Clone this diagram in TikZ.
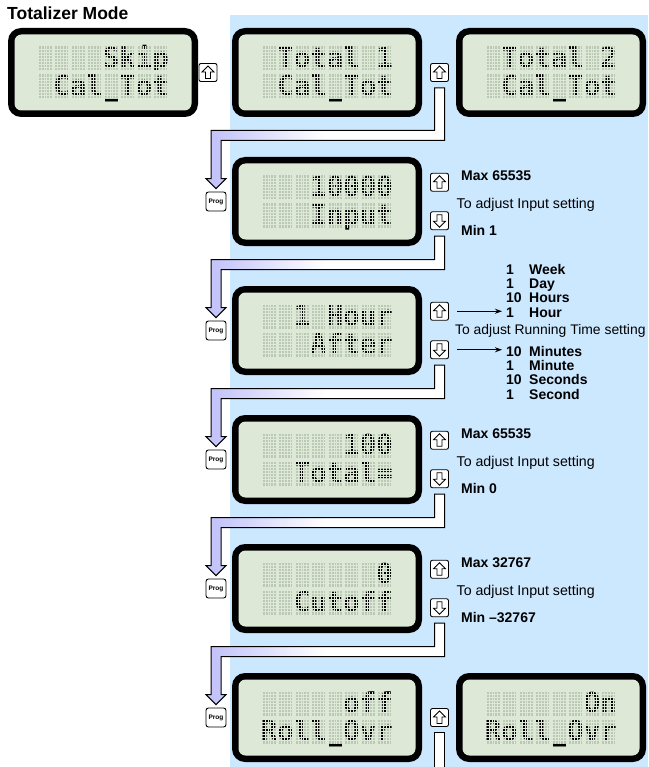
\documentclass[tikz,border=0pt]{standalone}
\usepackage{fontspec}
\setmainfont{Liberation Sans}
\newfontfamily\lcdfont{DejaVu Sans Mono}
\usetikzlibrary{calc,arrows.meta}

\definecolor{panelblue}{RGB}{204,232,255}
\definecolor{lcdbg}{RGB}{222,232,215}
\definecolor{lcddot}{RGB}{186,201,180}
\definecolor{flowlav}{RGB}{196,196,250}
\pgfdeclarehorizontalshading{flowshade}{100bp}{color(0bp)=(flowlav); color(27bp)=(flowlav); color(50bp)=(white); color(100bp)=(white)}

% LCD display: name, left x, top y, top row, bottom row
\newcommand{\lcd}[5]{%
  \begin{scope}[shift={(#2,#3)}]
    \node[lcdframe] (#1) at (95,44.5) {};
    \fill[lcdbg, rounded corners=7pt] (6.5,6.5) rectangle (183.5,82.5);
    \foreach \cx in {0,...,7}
      \foreach \ry in {0,1}
        \fill[lcddot] ({30.75+16.5*\cx},{18.5+28*\ry}) rectangle ++(13,24);
    \node[lcdtext] (#1-a) at (161,39.5) {#4};
    \node[lcdtext] (#1-b) at (161,67.5) {#5};
    % dot matrix gaps over the glyphs
    \foreach \cx in {0,...,6}
      \fill[lcdbg] ({43.75+16.5*\cx},12) rectangle ++(3.5,64);
    \fill[lcdbg] (28,42.5) rectangle (163,46.5);
    \foreach \cx in {0,...,7}
      \foreach \kx in {1,...,4}
        \draw[lcdbg, line width=0.55pt] ({30.75+16.5*\cx+2.71*\kx-0.27},18.5) -- ++(0,52);
    \foreach \ry in {0,1}
      \foreach \jy in {1,...,7}
        \draw[lcdbg, line width=0.55pt] (30,{18.5+28*\ry+3*\jy}) -- (161,{18.5+28*\ry+3*\jy});
  \end{scope}}

% one step of the menu: name, top y, top row, bottom row
\newcommand{\stage}[4]{%
  \lcd{lcd#1}{232}{#2}{#3}{#4}
  \node[progkey] (prog#1) at (216,{#2+44.5}) {Prog};
  \node[upkey] (up#1) at (439.5,{#2+25.25}) {};
  \node[downkey] (dn#1) at (439.5,{#2+63.75}) {};}

% limits beside the keys
\newcommand{\range}[3]{%
  \node[lblbold] (max#1) at ([xshift=12pt,yshift=7pt]up#1.east) {Max #2};
  \node[lbl] (adj#1) at ($(up#1.east)!0.5!(dn#1.east)+(7.5,3)$) {To adjust Input setting};
  \node[lblbold] (min#1) at ([xshift=12pt,yshift=-10pt]dn#1.east) {Min #3};}

% band from a key down to the next Prog key
\newcommand{\flow}[3]{%
  \coordinate (fs) at ($(#1.south)+(0,6)$);
  \coordinate (fh) at (0,#3);
  \coordinate (ft) at ($(#2.north)+(0,-3)$);
  \shadedraw[flowband] ($(fs)+(-5,0)$) -- ($(fs)+(5,0)$) -- ($(fs|-fh)+(5,5)$)
    -- ($(ft|-fh)+(5,5)$) -- ($(ft)+(5,-10)$) -- ($(ft)+(10,-10)$) -- (ft)
    -- ($(ft)+(-10,-10)$) -- ($(ft)+(-5,-10)$) -- ($(ft|-fh)+(-5,-5)$)
    -- ($(fs|-fh)+(-5,-5)$) -- cycle;}

\begin{document}
\begin{tikzpicture}[x=1pt, y=-1pt,
  lcdframe/.style={fill=black, rounded corners=13pt, minimum width=190pt, minimum height=89pt, inner sep=0pt},
  lcdtext/.style={font=\lcdfont\bfseries\fontsize{27.4}{28}\selectfont, anchor=base east, inner sep=0pt},
  key/.style={draw, line width=0.9pt, fill=white, rounded corners=2pt, minimum size=18pt, inner sep=0pt},
  upkey/.style={key, path picture={\draw[sharp corners, line width=0.8pt, line join=miter, shift={(path picture bounding box.center)}]
    (0,-6.5) -- (6,-0.5) -- (2.5,-0.5) -- (2.5,6) -- (-2.5,6) -- (-2.5,-0.5) -- (-6,-0.5) -- cycle;}},
  downkey/.style={key, path picture={\draw[sharp corners, line width=0.8pt, line join=miter, shift={(path picture bounding box.center)}]
    (0,6.5) -- (6,0.5) -- (2.5,0.5) -- (2.5,-6) -- (-2.5,-6) -- (-2.5,0.5) -- (-6,0.5) -- cycle;}},
  progkey/.style={draw, line width=0.9pt, fill=white, rounded corners=2.5pt, minimum width=20pt, minimum height=19pt,
    inner sep=0pt, font=\bfseries\fontsize{6.5}{7}\selectfont},
  flowband/.style={draw, line width=1pt, shading=flowshade},
  lbl/.style={font=\fontsize{14.2}{16}\selectfont, anchor=west, inner sep=0pt},
  lblbold/.style={lbl, font=\bfseries\fontsize{14}{16}\selectfont},
  pointer/.style={-{Stealth[length=7pt, width=5pt]}, line width=0.9pt}]

  \useasboundingbox (0,0) rectangle (648,767);

  % Background panel
  \fill[panelblue] (230,15) rectangle (648,767);
  \node[font=\bfseries\fontsize{17.5}{20}\selectfont, anchor=base west, inner sep=0pt] (title) at (7,20) {Totalizer Mode};

  % Top row
  \lcd{skip}{8}{28}{Skip}{Cal\_Tot}
  \lcd{tot1}{232}{28}{Total 1}{Cal\_Tot}
  \lcd{tot2}{456}{28}{Total 2}{Cal\_Tot}
  \node[upkey] (upa) at (208,72.5) {};
  \node[upkey] (upb) at (439.5,72.5) {};

  % Input
  \stage{4}{157}{10000}{Input}
  \range{4}{65535}{1}

  % Running time
  \stage{5}{286}{1 Hour}{After}
  \foreach \n/\w [count=\i] in {1/Week,1/Day,10/Hours,1/Hour} {
    \node[lblbold, anchor=base west] (tn\i) at (506,{259.6+14.4*\i}) {\n};
    \node[lblbold, anchor=base west] (tw\i) at (529,{259.6+14.4*\i}) {\w};
  }
  \foreach \n/\w [count=\i] in {10/Minutes,1/Minute,10/Seconds,1/Second} {
    \node[lblbold, anchor=base west] (bn\i) at (506,{341.6+14.4*\i}) {\n};
    \node[lblbold, anchor=base west] (bw\i) at (529,{341.6+14.4*\i}) {\w};
  }
  \node[lbl, font=\fontsize{13.9}{16}\selectfont] (adj5) at (455,331) {To adjust Running Time setting};
  \draw[pointer] ([xshift=8.5pt]up5.east) -- ($(up5.east -| tn4.west)+(-4,0)$);
  \draw[pointer] ([xshift=8.5pt]dn5.east) -- ($(dn5.east -| bn1.west)+(-4,0)$);

  % Total
  \stage{6}{415}{100}{Total=}
  \range{6}{65535}{0}

  % Cutoff
  \stage{7}{544}{0}{Cutoff}
  \range{7}{32767}{\textendash 32767}

  % Roll over
  \lcd{roll0}{232}{673}{off}{Roll\_Ovr}
  \lcd{roll1}{456}{673}{On}{Roll\_Ovr}
  \node[progkey] (prog8) at (216,717.5) {Prog};
  \node[upkey] (up8) at (439.5,717.5) {};

  % Flow bands
  \flow{upb}{prog4}{135.5}
  \flow{dn4}{prog5}{264.5}
  \flow{dn5}{prog6}{393.5}
  \flow{dn6}{prog7}{522.5}
  \flow{dn7}{prog8}{651.5}
  \filldraw[fill=white, line width=1pt] ($(up8.south)+(-5,6)$) rectangle ($(up8.south)+(5,60)$);

\end{tikzpicture}
\end{document}
